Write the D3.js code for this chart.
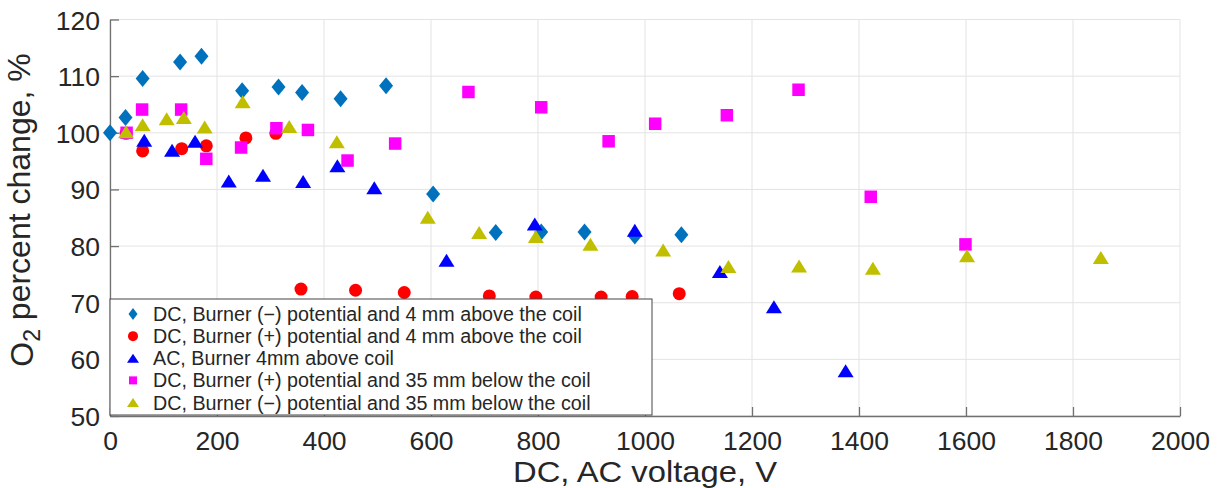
<!DOCTYPE html>
<html>
<head>
<meta charset="utf-8">
<script src="https://cdn.jsdelivr.net/npm/d3@7"></script>
<style>
html,body{margin:0;padding:0;background:#fff;}
svg{display:block;font-family:"Liberation Sans",Arial,sans-serif;}
</style>
</head>
<body>
<svg id="chart" width="1219" height="488"></svg>
<script>
// ---- data ----
const xTicks = [0,200,400,600,800,1000,1200,1400,1600,1800,2000];
const yTicks = [50,60,70,80,90,100,110,120];

const seriesNames = [
  "DC, Burner (\u2212) potential and 4 mm above the coil",
  "DC, Burner (+) potential and 4 mm above the coil",
  "AC, Burner 4mm above coil",
  "DC, Burner (+) potential and 35 mm below the coil",
  "DC, Burner (\u2212) potential and 35 mm below the coil"
];

const dcNeg4 = [[0,100],[29,102.7],[61,109.6],[131,112.5],[171,113.5],[247,107.4],[315,108.1],[359,107.1],[431,106.0],[516,108.3],[604,89.2],[721,82.4],[806,82.5],[887,82.5],[981,81.8],[1068,82.0]];
const dcPos4 = [[30,99.9],[61,96.8],[134,97.2],[180,97.7],[254,99.1],[310,99.9],[357,72.4],[459,72.2],[550,71.8],[709,71.2],[796,71.0],[918,71.0],[976,71.1],[1064,71.6]];
const ac4 = [[64,98.7],[116,96.9],[159,98.5],[222,91.5],[286,92.5],[361,91.4],[425,94.2],[494,90.3],[629,77.5],[794,83.9],[981,82.8],[1140,75.5],[1241,69.3],[1375,58.0]];
const dcPos35 = [[31,100.0],[60,104.1],[133,104.1],[180,95.4],[245,97.4],[311,100.8],[370,100.5],[444,95.1],[533,98.1],[670,107.2],[806,104.5],[932,98.5],[1019,101.6],[1153,103.1],[1287,107.6],[1422,88.7],[1599,80.3]];
const dcNeg35 = [[30,100.2],[61,101.4],[106,102.5],[138,102.7],[177,101.0],[248,105.5],[335,101.1],[424,98.4],[594,85.1],[690,82.4],[796,81.7],[898,80.3],[1034,79.3],[1156,76.4],[1288,76.5],[1426,76.1],[1602,78.3],[1852,78.0]];

const seriesData = [dcNeg4, dcPos4, ac4, dcPos35, dcNeg35];
const seriesColors = ["#0072BD","#FF0000","#0000FF","#FF00FF","#BFBF00"];
const seriesShapes = ["diamond","circle","triangle","square","triangle"];

// ---- layout ----
const svg = d3.select("#chart");
const L = 110, R = 1180, T = 19.5, B = 416;
const x = d3.scaleLinear().domain([0,2000]).range([L,R]);
const y = d3.scaleLinear().domain([50,120]).range([B,T]);

// grid
const g = svg.append("g");
g.selectAll("line.gx").data(xTicks).join("line")
  .attr("x1",d=>x(d)).attr("x2",d=>x(d)).attr("y1",T).attr("y2",B)
  .attr("stroke","#e3e3e3").attr("stroke-width",1);
g.selectAll("line.gy").data(yTicks).join("line")
  .attr("y1",d=>y(d)).attr("y2",d=>y(d)).attr("x1",L).attr("x2",R)
  .attr("stroke","#e3e3e3").attr("stroke-width",1);

// axes
const xAxis = d3.axisBottom(x).tickValues(xTicks).tickFormat(d3.format("d")).tickSizeInner(-9).tickSizeOuter(0).tickPadding(15);
const yAxis = d3.axisLeft(y).tickValues(yTicks).tickFormat(d3.format("d")).tickSizeInner(-9).tickSizeOuter(0).tickPadding(10);
const gx = svg.append("g").attr("transform",`translate(0,${B})`).call(xAxis);
const gy = svg.append("g").attr("transform",`translate(${L},0)`).call(yAxis);
[gx,gy].forEach(a=>{
  a.select(".domain").attr("stroke","#707070").attr("stroke-width",1.3);
  a.selectAll(".tick line").attr("stroke","#707070").attr("stroke-width",1.3);
  a.selectAll(".tick text").attr("fill","#262626").style("font-size","26.5px")
   .style("font-family","'Liberation Sans',Arial,sans-serif");
});
gy.selectAll(".tick text").attr("dy","0.36em");
gx.selectAll(".tick text").attr("dy","0.7em");

// marker paths: w,h are full width/height in px
function shapePath(shape, w, h){
  const a=w/2, b=h/2;
  if(shape==="diamond") return `M0,${-b}L${a},0L0,${b}L${-a},0Z`;
  if(shape==="square") return `M${-a},${-b}H${a}V${b}H${-a}Z`;
  if(shape==="triangle") return `M0,${-b}L${a},${b}L${-a},${b}Z`;
  return `M${a},0A${a},${b} 0 1,1 ${-a},0A${a},${b} 0 1,1 ${a},0Z`;
}
const plotSize = {diamond:[14,17], circle:[13,13], triangle:[16,13], square:[12.5,12.5]};
const legSize  = {diamond:[9,12], circle:[10,10], triangle:[12,9], square:[8,8]};

seriesData.forEach((data,i)=>{
  const sh = seriesShapes[i];
  svg.append("g").selectAll("path").data(data).join("path")
    .attr("transform",d=>`translate(${x(d[0])},${y(d[1])})`)
    .attr("d",shapePath(sh, plotSize[sh][0], plotSize[sh][1]))
    .attr("fill",seriesColors[i]);
});

// legend
const lg = svg.append("g");
const LX0 = 110, LY0 = 299, LX1 = 652, LY1 = 415;
lg.append("rect").attr("x",LX0).attr("y",LY0).attr("width",LX1-LX0).attr("height",LY1-LY0)
  .attr("fill","#fff").attr("stroke","#444").attr("stroke-width",1);
const rowY = d3.scaleLinear().domain([0,4]).range([314,402.5]);
seriesNames.forEach((name,i)=>{
  const sh = seriesShapes[i];
  lg.append("path").attr("transform",`translate(133,${rowY(i)})`)
    .attr("d",shapePath(sh, legSize[sh][0], legSize[sh][1]))
    .attr("fill",seriesColors[i]);
  lg.append("text").attr("x",153).attr("y",rowY(i)).attr("dy","0.36em")
    .attr("fill","#262626").style("font-size","17px").text(name);
});
{
  const t = lg.selectAll("text").nodes()[0];
  const w = t.getComputedTextLength();
  lg.selectAll("text").style("font-size",(17*429/w)+"px");
}

// x title
svg.append("text").attr("x",(L+R)/2).attr("y",482).attr("text-anchor","middle")
  .attr("fill","#262626").style("font-size","30px")
  .attr("textLength",264).attr("lengthAdjust","spacingAndGlyphs")
  .text("DC, AC voltage, V");

// y title
const yt = svg.append("text").attr("transform","translate(33,210) rotate(-90)").attr("text-anchor","middle")
  .attr("fill","#262626").style("font-size","32px");
yt.append("tspan").text("O");
yt.append("tspan").attr("dy","0.3em").style("font-size","23px").text("2");
yt.append("tspan").attr("dy","-0.3em").text(" percent change, %");
</script>
</body>
</html>
